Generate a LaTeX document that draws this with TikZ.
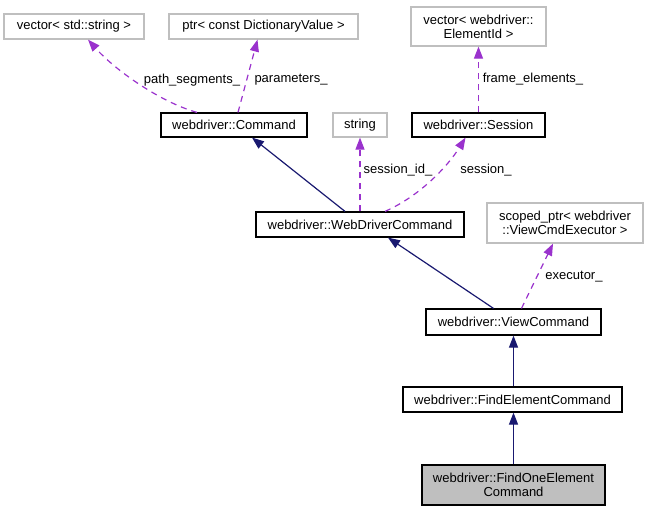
\documentclass[tikz,border=0pt]{standalone}
\usepackage{fontspec}
\setmainfont{Liberation Sans}
\usetikzlibrary{arrows.meta}
\definecolor{dep}{HTML}{9A32CD}
\definecolor{inh}{HTML}{191970}
\definecolor{gbord}{HTML}{BFBFBF}
\definecolor{gfill}{HTML}{BFBFBF}
\tikzset{
  base/.style={inner sep=0pt, align=center, font=\fontsize{13pt}{14pt}\selectfont, line width=1.2pt},
  cls/.style={base, draw=black, fill=white},
  ext/.style={base, draw=gbord, fill=white},
  cur/.style={base, draw=black, fill=gfill},
  lbl/.style={inner sep=0pt, font=\fontsize{13pt}{14pt}\selectfont},
  depl/.style={draw=dep, line width=1.2pt, dash pattern=on 6pt off 5pt, -{Triangle[length=12pt,width=9pt]}},
  inhl/.style={draw=inh, line width=1.2pt, -{Triangle[length=12pt,width=9pt]}}
}
\begin{document}
\begin{tikzpicture}[x=1pt,y=-1pt]
\useasboundingbox (0,0) rectangle (648,512);
\node[ext, minimum width=140pt, minimum height=25pt] (vecstr) at (74,26.5) {vector< std::string >};
\node[ext, minimum width=189pt, minimum height=25pt] (ptr) at (263.5,26.5) {ptr< const DictionaryValue >};
\node[ext, minimum width=135pt, minimum height=39pt] (vecel) at (478.5,26.5) {vector< webdriver::\\ElementId >};
\node[cls, minimum width=146pt, minimum height=24pt] (cmd) at (234,125) {webdriver::Command};
\node[ext, minimum width=54pt, minimum height=24pt] (str) at (360,125) {string};
\node[cls, minimum width=133pt, minimum height=24pt] (sess) at (478.5,125) {webdriver::Session};
\node[cls, minimum width=208pt, minimum height=25pt] (wdc) at (360,224.5) {webdriver::WebDriverCommand};
\node[ext, minimum width=156pt, minimum height=40pt] (scoped) at (565,223) {scoped\_ptr< webdriver\\::ViewCmdExecutor >};
\node[cls, minimum width=175pt, minimum height=26pt] (view) at (513.5,322) {webdriver::ViewCommand};
\node[cls, minimum width=219pt, minimum height=25pt] (findel) at (512.5,399.5) {webdriver::FindElementCommand};
\node[cur, minimum width=183pt, minimum height=40pt] (findone) at (513.5,485) {webdriver::FindOneElement\\Command};

\draw[depl] ([xshift=-37pt]cmd.north) .. controls (160,102) and (115,70) .. ([xshift=14pt]vecstr.south);
\draw[depl] ([xshift=4pt]cmd.north) -- ([xshift=-6pt]ptr.south);
\draw[depl] (sess.north) -- (vecel.south);
\draw[inhl] ([xshift=-15pt]wdc.north) -- ([xshift=18pt]cmd.south);
\draw[depl] (wdc.north) -- (str.south);
\draw[depl] ([xshift=25pt]wdc.north) .. controls (420,196) and (448,166) .. ([xshift=-13pt]sess.south);
\draw[inhl] ([xshift=-20pt]view.north) -- ([xshift=28pt]wdc.south);
\draw[depl] ([xshift=8pt]view.north) -- ([xshift=-12pt]scoped.south);
\draw[inhl] (view.south |- findel.north) -- (view.south);
\draw[inhl] (findone.north) -- (findone.north |- findel.south);

\node[lbl] (l1) at (192,80) {path\_segments\_};
\node[lbl] (l2) at (291,80) {parameters\_};
\node[lbl] (l3) at (533,79) {frame\_elements\_};
\node[lbl] (l4) at (398,170) {session\_id\_};
\node[lbl] (l5) at (486,170) {session\_};
\node[lbl] (l6) at (574,277) {executor\_};
\end{tikzpicture}
\end{document}
